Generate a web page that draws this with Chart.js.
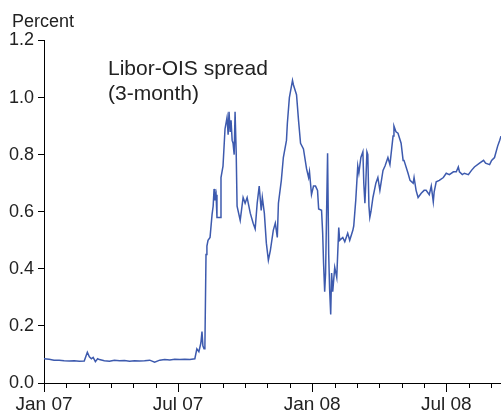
<!DOCTYPE html>
<html>
<head>
<meta charset="utf-8">
<script src="https://cdn.jsdelivr.net/npm/chart.js@4"></script>
<style>
  html, body { margin: 0; padding: 0; background: #fff; }
  #wrap { width: 501px; height: 412px; position: relative; }
</style>
</head>
<body>
<div id="wrap"><canvas id="chart"></canvas></div>
<script>
// 월 단위 x값 (0 = Jan 07)
const months = [
  0, 0.23, 0.45, 0.68, 0.90, 1.13, 1.35, 1.58, 1.80, 1.94, 2.03, 2.12, 2.20, 2.30, 2.40, 2.48,
  2.70, 2.93, 3.15, 3.38, 3.60, 3.83, 4.05, 4.28, 4.50, 4.73, 4.95, 5.18, 5.40, 5.63, 5.85,
  6.08, 6.30, 6.53, 6.75, 6.84, 6.93, 7.02, 7.07, 7.11, 7.16, 7.20, 7.25, 7.29, 7.34, 7.43,
  7.52, 7.57, 7.61, 7.65, 7.70, 7.74, 7.88, 7.92, 8.01, 8.10, 8.19, 8.24, 8.28, 8.33, 8.37,
  8.42, 8.46, 8.51, 8.55, 8.60, 8.64, 8.78, 8.91, 9.00, 9.09, 9.14, 9.23, 9.36, 9.45, 9.54,
  9.63, 9.72, 9.77, 9.86, 9.95, 10.04, 10.13, 10.26, 10.35, 10.44, 10.49, 10.62, 10.71, 10.85,
  10.89, 10.98, 11.12, 11.16, 11.30, 11.39, 11.48, 11.61, 11.75, 11.84, 11.88, 11.97, 12.06,
  12.15, 12.24, 12.29, 12.42, 12.47, 12.51, 12.56, 12.60, 12.69, 12.74, 12.78, 12.83, 12.87,
  12.92, 13.01, 13.10, 13.19, 13.23, 13.37, 13.46, 13.59, 13.68, 13.82, 13.86, 13.95, 14.04,
  14.09, 14.18, 14.27, 14.31, 14.36, 14.40, 14.45, 14.49, 14.54, 14.58, 14.63, 14.72, 14.85,
  14.94, 15.03, 15.17, 15.26, 15.39, 15.48, 15.62, 15.66, 15.75, 15.84, 15.98, 16.07, 16.11,
  16.29, 16.38, 16.52, 16.56, 16.65, 16.74, 16.88, 17.01, 17.10, 17.24, 17.33, 17.42, 17.46,
  17.55, 17.69, 17.87, 18.00, 18.14, 18.32, 18.45, 18.54, 18.59, 18.72, 18.81, 18.99, 19.13,
  19.26, 19.49, 19.67, 19.76, 19.94, 20.03, 20.16, 20.30, 20.39, 20.45
];
// Libor-OIS spread (%)
const spread = [
  0.085, 0.083, 0.080, 0.080, 0.078, 0.077, 0.078, 0.076, 0.077, 0.108, 0.092, 0.085, 0.090, 0.075, 0.085, 0.082,
  0.078, 0.076, 0.080, 0.078, 0.079, 0.076, 0.078, 0.077, 0.078, 0.080, 0.073, 0.080, 0.082, 0.081, 0.083,
  0.082, 0.083, 0.082, 0.085, 0.12, 0.11, 0.14, 0.18, 0.13, 0.12, 0.13, 0.45, 0.48, 0.50, 0.51,
  0.59, 0.62, 0.68, 0.64, 0.66, 0.58, 0.58, 0.72, 0.76, 0.89, 0.93, 0.87, 0.95, 0.88, 0.92,
  0.85, 0.84, 0.80, 0.95, 0.81, 0.62, 0.57, 0.65, 0.63, 0.65, 0.63, 0.595, 0.56, 0.54, 0.63,
  0.69, 0.605, 0.65, 0.595, 0.49, 0.43, 0.465, 0.535, 0.56, 0.51, 0.63, 0.71, 0.79, 0.85,
  0.91, 1.00, 1.06, 1.045, 1.01, 0.92, 0.84, 0.82, 0.75, 0.72, 0.74, 0.66, 0.69,
  0.69, 0.675, 0.61, 0.605, 0.525, 0.42, 0.32, 0.385, 0.805, 0.45, 0.33, 0.24, 0.385,
  0.32, 0.405, 0.37, 0.545, 0.50, 0.51, 0.495, 0.525, 0.50, 0.535, 0.55, 0.64, 0.76,
  0.735, 0.79, 0.81, 0.70, 0.63, 0.70, 0.81, 0.80, 0.62, 0.58, 0.60, 0.65, 0.70,
  0.72, 0.675, 0.745, 0.76, 0.79, 0.765, 0.865, 0.90, 0.88, 0.875, 0.84, 0.78, 0.78,
  0.735, 0.71, 0.70, 0.72, 0.675, 0.65, 0.665, 0.675, 0.675, 0.66, 0.69, 0.635, 0.67,
  0.705, 0.71, 0.72, 0.735, 0.73, 0.74, 0.74, 0.757, 0.74, 0.73, 0.735, 0.73, 0.745,
  0.757, 0.77, 0.78, 0.77, 0.765, 0.78, 0.79, 0.83, 0.85, 0.865
];
// 눈금 라벨
const xTickLabels = { 0: 'Jan 07', 6: 'Jul 07', 12: 'Jan 08', 18: 'Jul 08' };
const yTicks = [0, 0.2, 0.4, 0.6, 0.8, 1.0, 1.2];

const FONT = '"Liberation Sans", Arial, sans-serif';
const TEXT = '#222';

// 월 눈금 (긴 것 / 짧은 것) + 주석 텍스트
const extras = {
  id: 'extras',
  afterDraw(chart){
    const ctx = chart.ctx, x = chart.scales.x, a = chart.chartArea;
    ctx.save();
    ctx.strokeStyle = '#000';
    ctx.lineWidth = 1;
    for(let m = 0; m <= Math.floor(x.max); m++){
      const px = Math.round(x.getPixelForValue(m)) + 0.5;
      const len = (m % 6 === 0) ? 9 : 5;
      ctx.beginPath();
      ctx.moveTo(px, a.bottom);
      ctx.lineTo(px, a.bottom + len);
      ctx.stroke();
    }
    ctx.fillStyle = TEXT;
    ctx.textBaseline = 'alphabetic';
    ctx.textAlign = 'left';
    ctx.font = '18px ' + FONT;
    ctx.fillText('Percent', 12, 27);
    ctx.font = '21px ' + FONT;
    ctx.fillText('Libor-OIS spread', 108, 75);
    ctx.fillText('(3-month)', 108, 100);
    ctx.restore();
  }
};

new Chart(document.getElementById('chart'), {
  type: 'line',
  data: {
    datasets: [{
      data: months.map((m, i) => ({ x: m, y: spread[i] })),
      borderColor: '#3d5aae',
      borderWidth: 1.5,
      pointRadius: 0,
      tension: 0,
      fill: false
    }]
  },
  options: {
    responsive: true,
    maintainAspectRatio: false,
    animation: false,
    layout: { padding: { top: 40.5, left: 0, right: 0, bottom: 0 } },
    plugins: { legend: { display: false }, tooltip: { enabled: false } },
    scales: {
      x: {
        type: 'linear',
        min: 0, max: 20.45,
        afterFit: s => { s.height = 29; },
        afterBuildTicks: s => { s.ticks = Object.keys(xTickLabels).map(v => ({ value: +v })); },
        border: { color: '#000', width: 1 },
        grid: { display: false, drawTicks: false },
        ticks: {
          autoSkip: false, maxRotation: 0, padding: 10,
          color: TEXT, font: { size: 19, family: FONT },
          callback: v => xTickLabels[v] || ''
        }
      },
      y: {
        min: 0, max: 1.2,
        afterFit: s => { s.width = 44; },
        afterBuildTicks: s => { s.ticks = yTicks.map(v => ({ value: v })); },
        border: { color: '#000', width: 1 },
        grid: { drawOnChartArea: false, drawTicks: true, tickLength: 6, color: '#000' },
        ticks: {
          padding: 4, color: TEXT, font: { size: 18, family: FONT },
          callback: v => v.toFixed(1)
        }
      }
    }
  },
  plugins: [extras]
});
</script>
</body>
</html>
